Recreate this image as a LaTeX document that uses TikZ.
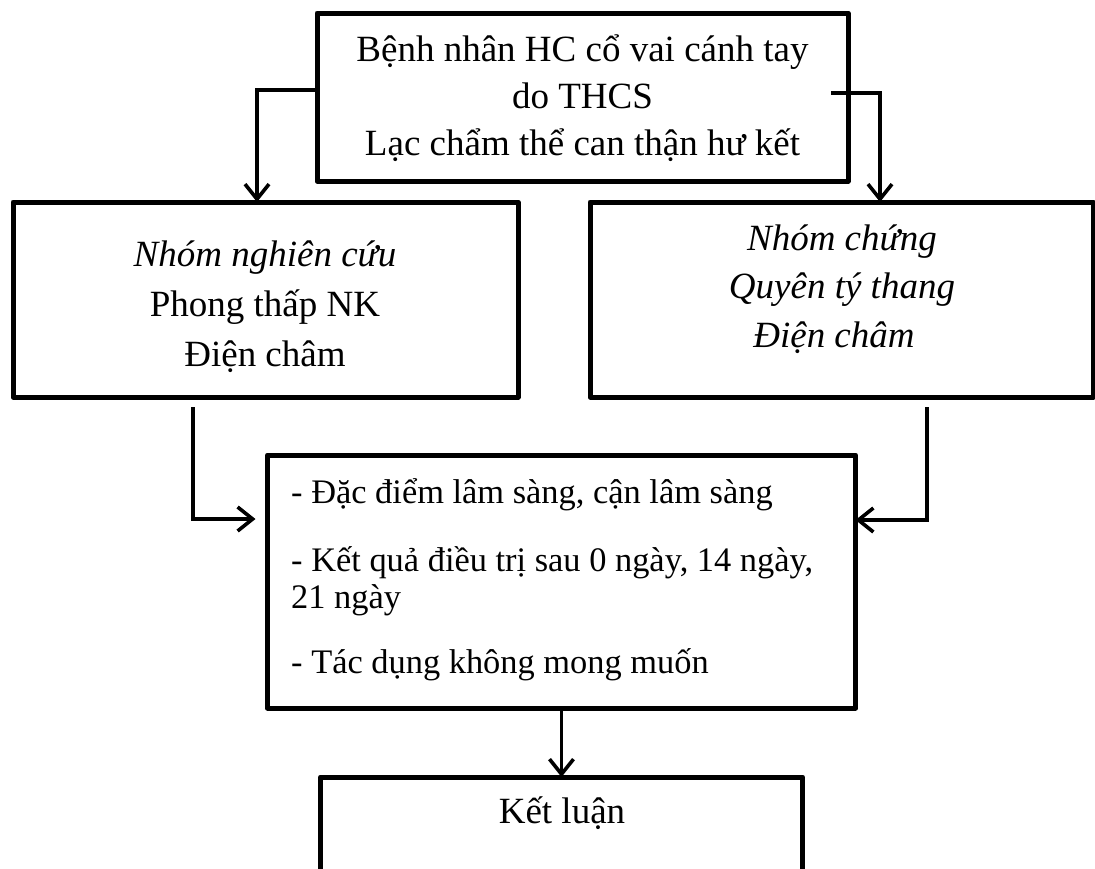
\documentclass[tikz,border=0pt]{standalone}
\usepackage{fontspec}
\setmainfont{Liberation Serif}
\usetikzlibrary{arrows.meta}
\begin{document}
\begin{tikzpicture}[x=1pt,y=-1pt,
  box/.style={draw, line width=5pt, inner sep=0pt, outer sep=0pt, line join=round},
  txt/.style={inner sep=0pt, align=center, font=\fontsize{37}{47}\selectfont},
  conn/.style={line width=3.6pt, -{Straight Barb[length=15pt,width=24pt,line width=3.6pt]}}]
\useasboundingbox (0,0) rectangle (1095,868);
\clip (0,0) rectangle (1095,868);
% boxes
\node[box, minimum width=531pt, minimum height=168pt] (top) at (582.5,97) {};
\node[box, minimum width=505pt, minimum height=195pt] (left) at (265.5,299.5) {};
\node[box, minimum width=503pt, minimum height=195pt] (right) at (841.5,299.5) {};
\node[box, minimum width=588pt, minimum height=253pt] (mid) at (561.5,581.5) {};
\node[box, minimum width=482pt, minimum height=160pt] (bot) at (561.5,857) {};
% texts
\node[txt] (toptext) at (582.5,98) {Bệnh nhân HC cổ vai cánh tay\\do THCS\\Lạc chẩm thể can thận hư kết};
\node[txt, font=\fontsize{37}{50}\selectfont] (lefttext) at (265,307) {\textit{Nhóm nghiên cứu}\\Phong thấp NK\\Điện châm};
\node[txt, font=\fontsize{37}{48.5}\selectfont\itshape] (righttext) at (842,289) {Nhóm chứng\\Quyên tý thang\\Điện châm\hspace*{16pt}};
\node[txt, align=left, anchor=north west, font=\fontsize{34.4}{37}\selectfont] (midtext) at (291,478)
  {- Đặc điểm lâm sàng, cận lâm sàng\\[31pt]- Kết quả điều trị sau 0 ngày, 14 ngày,\\21 ngày\\[28pt]- Tác dụng không mong muốn};
\node[txt] (bottext) at (562,813) {Kết luận};
% connectors
\coordinate (r0) at (831,93);
\coordinate (l1) at (193,407);
\coordinate (r1) at (927,407);
\draw[conn] ([yshift=7pt]top.west) -| ([xshift=-8.5pt]left.north);
\draw[conn] (r0) -| ([xshift=38.5pt]right.north);
\draw[conn, shorten >=12pt] (l1) |- ([yshift=62.5pt]mid.west);
\draw[conn] (r1) |- ([yshift=61.5pt]mid.east);
\draw[conn] (mid.south) -- (bot.north);
\end{tikzpicture}
\end{document}
